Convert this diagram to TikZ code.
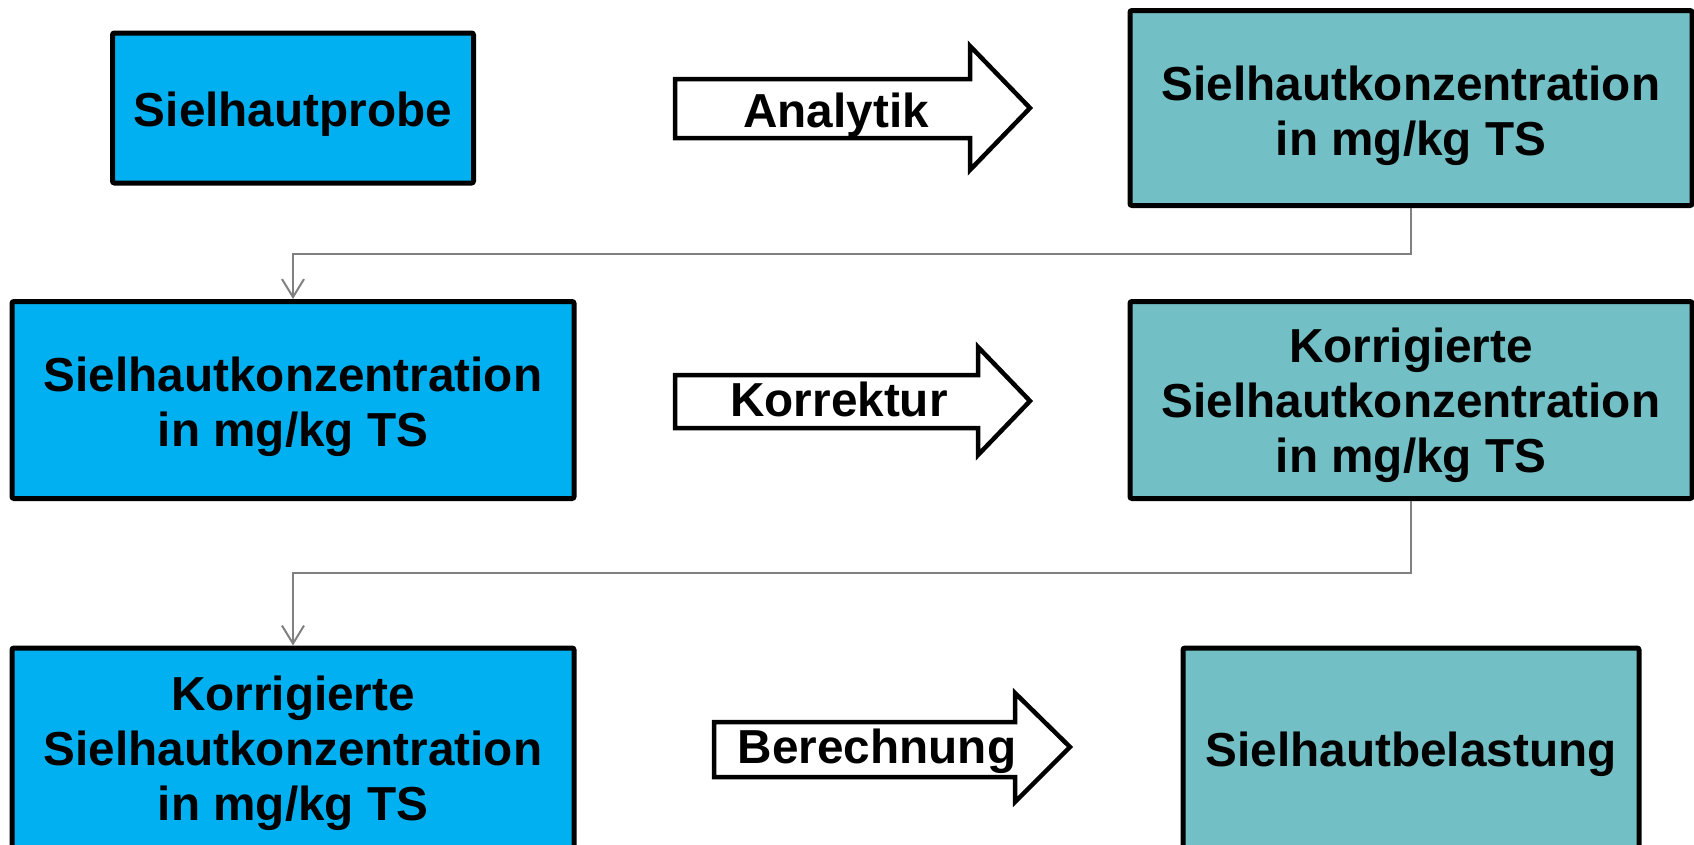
\documentclass[tikz,border=0pt]{standalone}
\usepackage{fontspec}
\setmainfont{Liberation Sans}
\usetikzlibrary{arrows.meta}
\definecolor{boxblue}{RGB}{0,176,240}
\definecolor{boxteal}{RGB}{114,191,197}
\definecolor{conngray}{RGB}{128,128,128}
\tikzset{
  box/.style={draw=black, line width=5pt, rounded corners=2pt, inner sep=0pt},
  bluebox/.style={box, fill=boxblue},
  tealbox/.style={box, fill=boxteal},
  boxtext/.style={align=center, font=\fontsize{47.7}{55}\selectfont\bfseries, inner sep=0pt},
  blockarrow/.style={draw=black, fill=white, line width=4.5pt, line join=miter},
  arrowlabel/.style={font=\fontsize{47.7}{55}\selectfont\bfseries, inner sep=0pt},
  conn/.style={draw=conngray, line width=2pt, -{Straight Barb[length=18pt,width=22pt,line width=2pt]}}
}
\begin{document}
\begin{tikzpicture}[x=1pt,y=-1pt]
\useasboundingbox (0,0) rectangle (1694,844);
% boxes
\node[bluebox, minimum width=361pt, minimum height=150pt] (b1) at (293,108) {};
\node[boxtext] (t1) at (293,114.5) {Sielhautprobe};
\node[tealbox, minimum width=562pt, minimum height=195pt] (b2) at (1411,108) {};
\node[boxtext] (t2) at (1411,115.5) {Sielhautkonzentration\\in mg/kg TS};
\node[bluebox, minimum width=562pt, minimum height=197pt] (b3) at (293,400) {};
\node[boxtext] (t3) at (293,407) {Sielhautkonzentration\\in mg/kg TS};
\node[tealbox, minimum width=562pt, minimum height=197pt] (b4) at (1411,400) {};
\node[boxtext] (t4) at (1411,405.5) {Korrigierte\\Sielhautkonzentration\\in mg/kg TS};
\node[bluebox, minimum width=562pt, minimum height=204pt] (b5) at (293,750) {};
\node[boxtext] (t5) at (293,753) {Korrigierte\\Sielhautkonzentration\\in mg/kg TS};
\node[tealbox, minimum width=456pt, minimum height=204pt] (b6) at (1411,750) {};
\node[boxtext] (t6) at (1411,754.5) {Sielhautbelastung};
% block arrows
\draw[blockarrow] (675,79) -- (970,79) -- (970,46) -- (1030,108) -- (970,170) -- (970,138) -- (675,138) -- cycle;
\node[arrowlabel] (a1) at (836,115.5) {Analytik};
\draw[blockarrow] (675,375) -- (978,375) -- (978,347) -- (1030,401) -- (978,455) -- (978,428) -- (675,428) -- cycle;
\node[arrowlabel] (a2) at (839,399) {Korrektur};
\draw[blockarrow] (714,722) -- (1015,722) -- (1015,693) -- (1070,747) -- (1015,802) -- (1015,777) -- (714,777) -- cycle;
\node[arrowlabel] (a3) at (877,751.5) {Berechnung};
% connectors
\coordinate (c1a) at (1411,254);
\coordinate (c1b) at (293,254);
\draw[conn] (b2.south) -- (c1a) -- (c1b) -- (b3.north);
\coordinate (c2a) at (1411,573);
\coordinate (c2b) at (293,573);
\draw[conn] (b4.south) -- (c2a) -- (c2b) -- (b5.north);
\end{tikzpicture}
\end{document}
